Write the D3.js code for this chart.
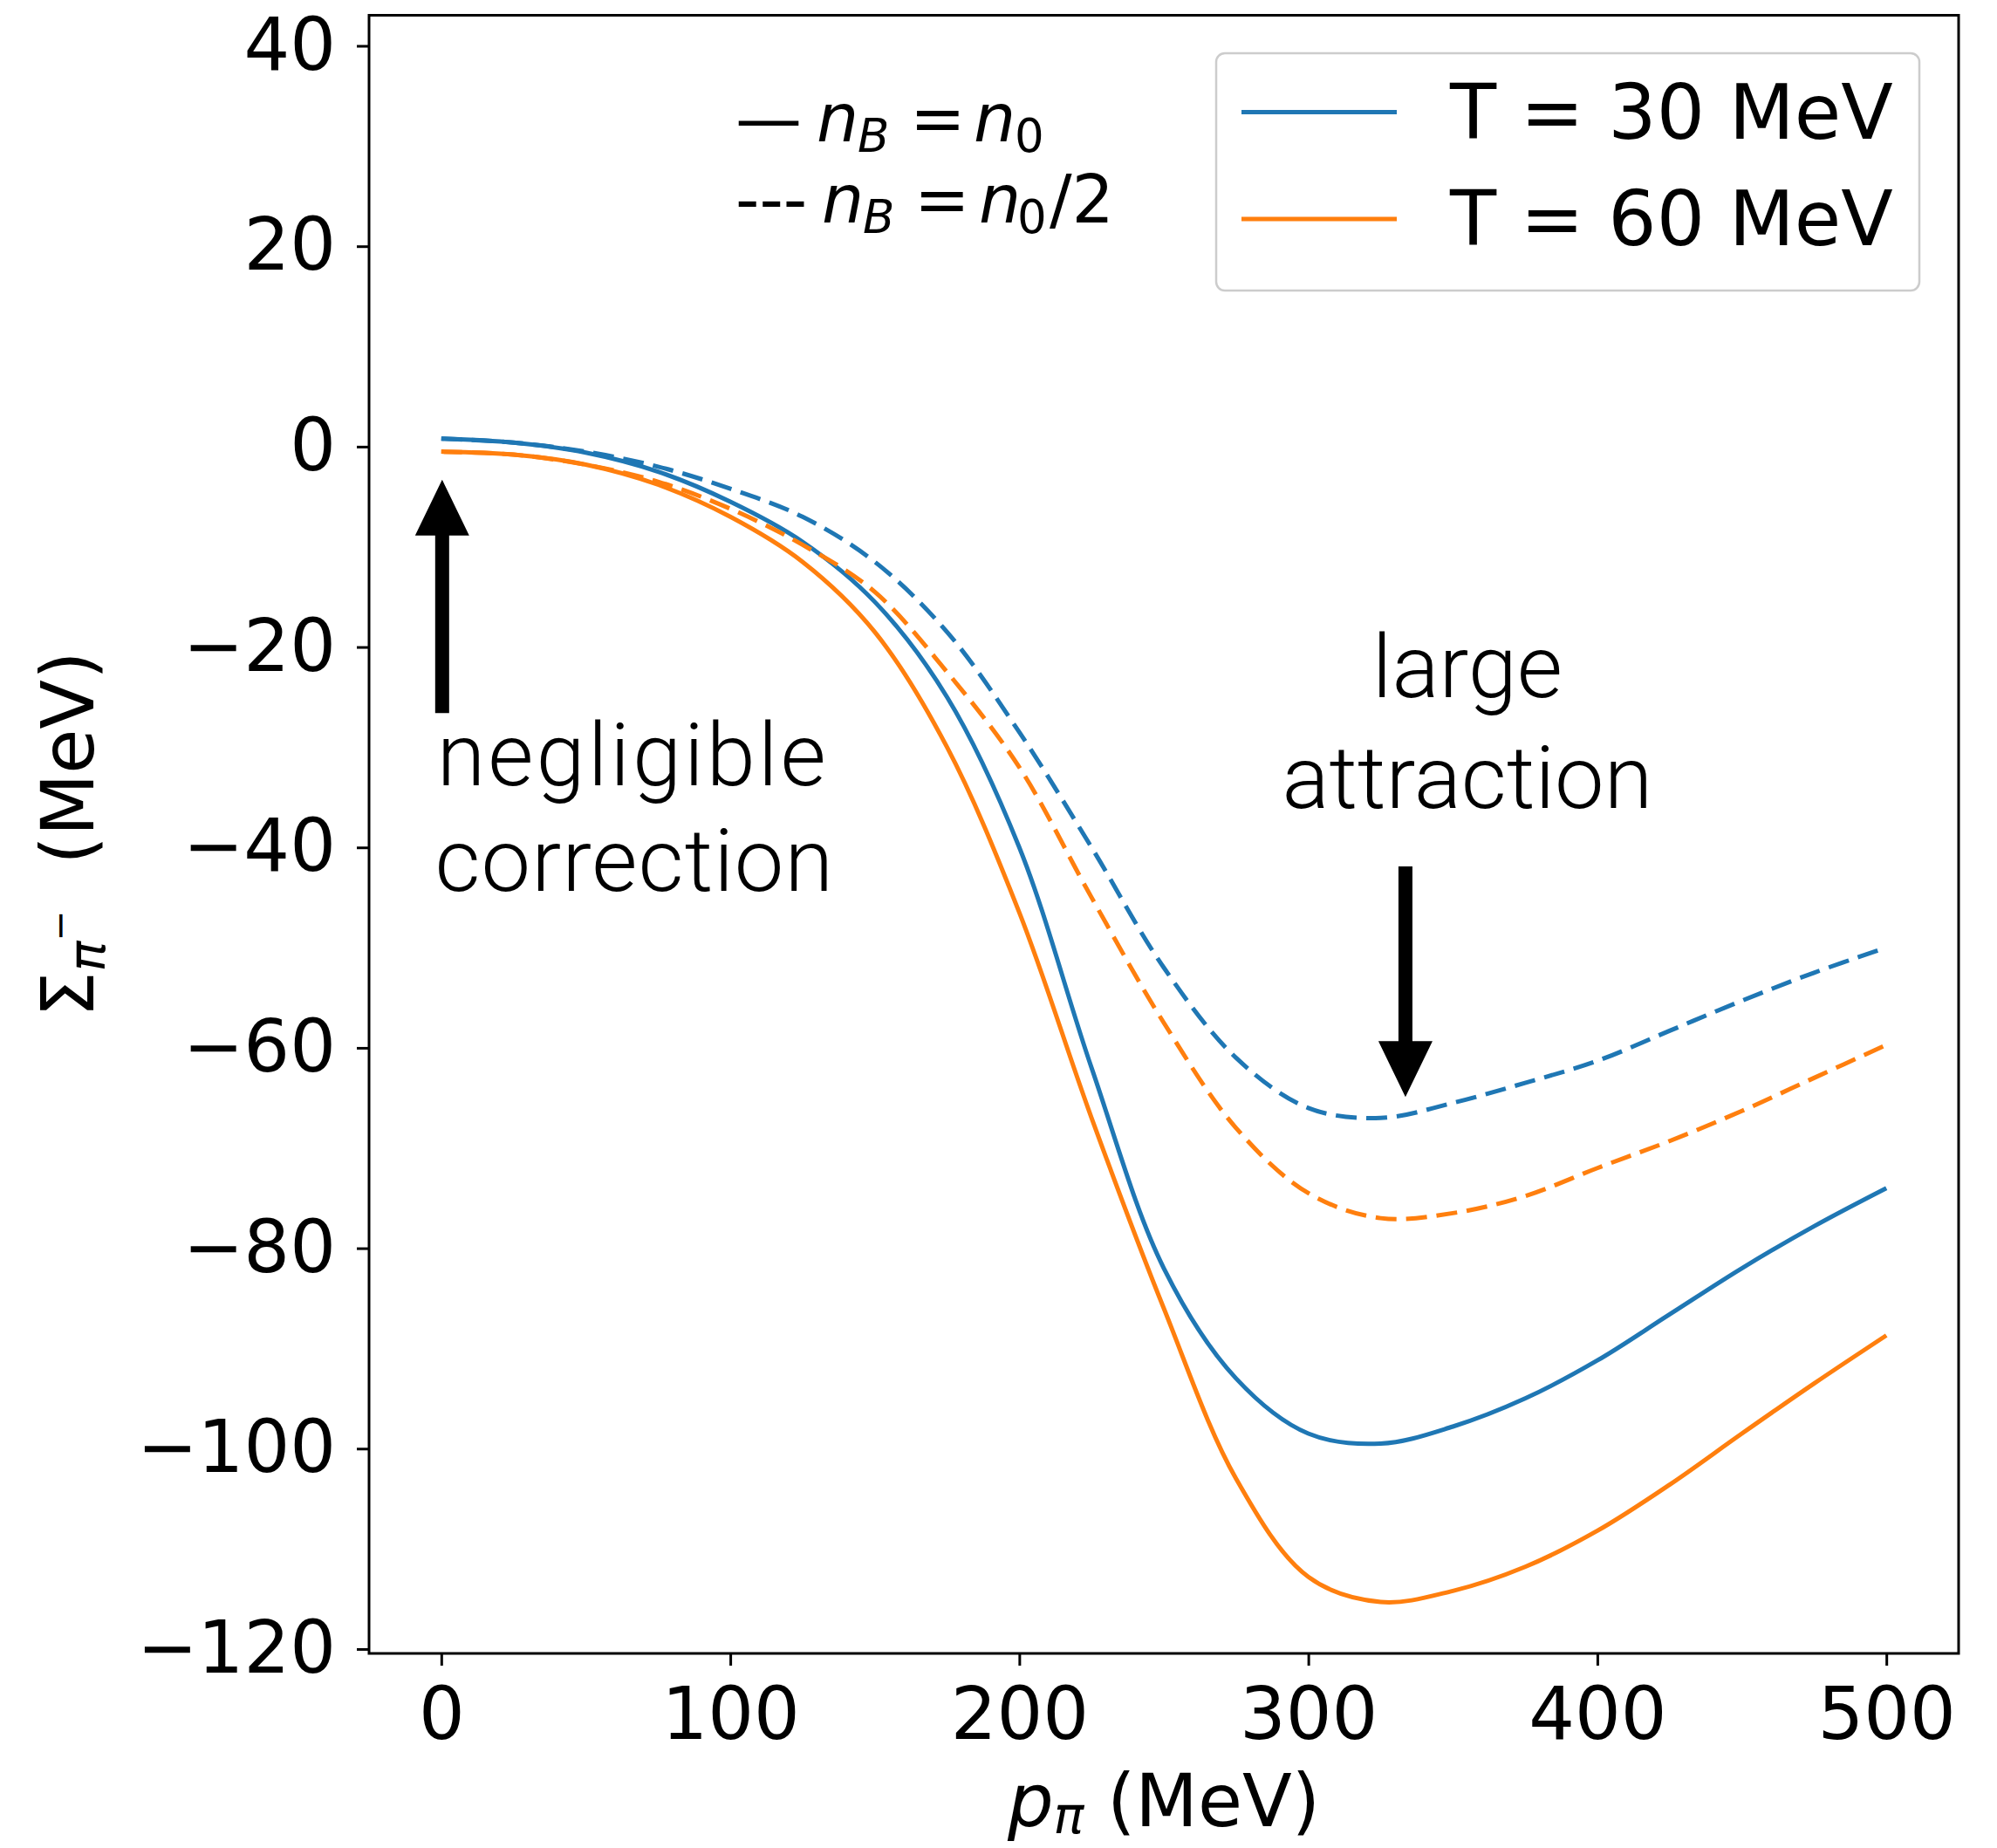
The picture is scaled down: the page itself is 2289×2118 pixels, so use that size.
<!DOCTYPE html>
<html>
<head>
<meta charset="utf-8">
<script src="https://cdn.jsdelivr.net/npm/d3@7"></script>
<style>
body { margin: 0; background: #fff; }
text { font-family: 'DejaVu Sans', sans-serif; }
</style>
</head>
<body>
<svg id="chart" width="2289" height="2118"></svg>
<script>
// pion momentum grid (MeV)
var pGrid = [0, 25, 50, 75, 100, 125, 150, 175, 200, 225, 250, 275, 300, 325, 350, 375, 400, 425, 450, 475, 500];

// self energy Sigma_pi- (MeV)
var sigT30n0 = [0.8, 0.4, -0.6, -2.5, -5.5, -9.5, -15.5, -25, -40, -62, -82, -93, -98.5, -99.5, -97.8, -95, -91.2, -86.6, -82, -77.8, -74];
var sigT60n0 = [-0.5, -0.8, -1.8, -3.8, -7, -11.5, -18.5, -30, -46.5, -67, -86, -103, -112.8, -115.3, -114.2, -111.8, -108.2, -103.6, -98.5, -93.5, -88.7];
var sigT30half = [0.8, 0.4, -0.5, -2, -4.2, -7, -11.5, -18.5, -28.5, -40, -52, -61, -66, -67, -65.5, -63.5, -61.3, -58.3, -55.3, -52.5, -50];
var sigT60half = [-0.5, -0.8, -1.8, -3.5, -6.2, -9.8, -14.5, -22.5, -32, -45, -57.5, -68, -74.5, -77, -76.5, -74.8, -72, -69.3, -66.3, -63, -59.7];

var xTicks = [0, 100, 200, 300, 400, 500];
var yTicks = [40, 20, 0, -20, -40, -60, -80, -100, -120];
var legendLabels = ['T = 30 MeV', 'T = 60 MeV'];

var blue = '#1f77b4', orange = '#ff7f0e';

//plot frame
var fr = {'left': 423, 'right': 2245, 'top': 17.5, 'bottom': 1895};

var svg = d3.select('#chart');
svg.append('rect').attr('width', 2289).attr('height', 2118).style('fill', '#fff');

var x = d3.scaleLinear().domain([-25, 525]).range([fr.left, fr.right]);
var y = d3.scaleLinear().domain([-120.44, 43.05]).range([fr.bottom, fr.top]);

var fmt = function(d) { return d < 0 ? '\u2212' + Math.abs(d) : '' + d; };

//axes
var gx = svg.append('g')
	.attr('transform', 'translate(0,' + fr.bottom + ')')
	.call(d3.axisBottom(x).tickValues(xTicks).tickSizeInner(14).tickSizeOuter(0).tickPadding(25).tickFormat(fmt));
var gy = svg.append('g')
	.attr('transform', 'translate(' + fr.left + ',0)')
	.call(d3.axisLeft(y).tickValues(yTicks).tickSizeInner(14).tickSizeOuter(0).tickPadding(24).tickFormat(fmt));

[gx, gy].forEach(function(g) {
	g.select('.domain').remove();
	g.selectAll('line').attr('stroke', '#000').attr('stroke-width', 3);
	g.selectAll('text')
		.attr('fill', '#000')
		.style('font-family', "'DejaVu Sans', sans-serif")
		.style('font-size', '83px');
});

//curves
var line = d3.line()
	.x(function(d) { return x(d[0]); })
	.y(function(d) { return y(d[1]); })
	.curve(d3.curveCatmullRom.alpha(0.5));

var series = [
	{'vals': sigT30n0, 'color': blue, 'dash': null},
	{'vals': sigT60n0, 'color': orange, 'dash': null},
	{'vals': sigT30half, 'color': blue, 'dash': '24,11'},
	{'vals': sigT60half, 'color': orange, 'dash': '24,11'}
];

series.forEach(function(s) {
	svg.append('path')
		.datum(d3.zip(pGrid, s.vals))
		.attr('d', line)
		.attr('fill', 'none')
		.attr('stroke', s.color)
		.attr('stroke-width', 5)
		.attr('stroke-dasharray', s.dash);
});

//frame on top
svg.append('rect')
	.attr('x', fr.left).attr('y', fr.top)
	.attr('width', fr.right - fr.left).attr('height', fr.bottom - fr.top)
	.attr('fill', 'none').attr('stroke', '#000').attr('stroke-width', 3);

//legend box
var lg = svg.append('g');
lg.append('rect')
	.attr('x', 1394).attr('y', 61).attr('width', 806).attr('height', 272)
	.attr('rx', 10)
	.attr('fill', '#fff').attr('fill-opacity', 0.8)
	.attr('stroke', '#cccccc').attr('stroke-width', 2.5);
[blue, orange].forEach(function(c, i) {
	var yy = 128.5 + i * 122.5;
	lg.append('line')
		.attr('x1', 1423).attr('x2', 1601).attr('y1', yy).attr('y2', yy)
		.attr('stroke', c).attr('stroke-width', 5);
	lg.append('text')
		.attr('x', 1662).attr('y', yy + 30)
		.style('font-size', '87px')
		.text(legendLabels[i]);
});

//density note (mathtext style)
function densityLine(y0, dashTxt, xs, tail) {
	var t = svg.append('text').attr('y', y0).style('font-size', '76px');
	t.append('tspan').attr('x', xs[0]).text(dashTxt);
	t.append('tspan').attr('x', xs[1]).style('font-style', 'italic').text('n');
	t.append('tspan').attr('x', xs[2]).attr('dy', 12).style('font-style', 'italic').style('font-size', '53px').text('B');
	t.append('tspan').attr('x', xs[3]).attr('dy', -12).text('=');
	t.append('tspan').attr('x', xs[4]).style('font-style', 'italic').text('n');
	t.append('tspan').attr('x', xs[5]).attr('dy', 12).style('font-size', '53px').text('0');
	if (tail) t.append('tspan').attr('x', xs[6]).attr('dy', -12).text(tail);
}
densityLine(162, '\u2014', [843, 936, 983, 1043, 1116, 1163]);
densityLine(255, '---', [843, 942, 989, 1048, 1122, 1166, 1203], '/2');

//arrows + notes
function arrow(xv, fromV, toV) {
	var x0 = x(xv), y0 = y(fromV), y1 = y(toV);
	var dir = y1 < y0 ? 1 : -1;
	var headL = 64, hw = 31, sw = 8;
	var yb = y1 + dir * headL;
	svg.append('path')
		.attr('d', 'M' + (x0 - sw) + ',' + y0 + 'L' + (x0 - sw) + ',' + yb + 'L' + (x0 - hw) + ',' + yb +
			'L' + x0 + ',' + y1 + 'L' + (x0 + hw) + ',' + yb + 'L' + (x0 + sw) + ',' + yb + 'L' + (x0 + sw) + ',' + y0 + 'Z')
		.attr('fill', '#000');
}
arrow(0.3, -26.6, -3.3);
arrow(333.6, -41.9, -64.9);

var noteFont = "Roboto, 'Liberation Sans', sans-serif";
function note(txt, xv, v, anchor, spacing) {
	svg.append('text')
		.attr('x', x(xv)).attr('y', y(v))
		.attr('text-anchor', anchor)
		.style('font-family', noteFont).style('font-weight', 300)
		.style('font-size', '101px')
		.style('letter-spacing', spacing + 'px')
		.text(txt);
}
note('negligible', -1.5, -33.8, 'start', 3);
note('correction', -2.2, -44.3, 'start', 1);
note('large', 355, -25.0, 'middle', 0);
note('attraction', 355, -36.1, 'middle', 0);

//axis labels
var xl = svg.append('text')
	.attr('x', (fr.left + fr.right) / 2).attr('y', 2093)
	.attr('text-anchor', 'middle').style('font-size', '83px');
xl.append('tspan').style('font-style', 'italic').text('p');
xl.append('tspan').attr('dy', 8).style('font-style', 'italic').style('font-size', '58px').text('\u03c0');
xl.append('tspan').attr('dy', -8).text(' (MeV)');

var yl = svg.append('text')
	.attr('transform', 'translate(107,' + ((fr.top + fr.bottom) / 2) + ') rotate(-90)')
	.attr('text-anchor', 'middle').style('font-size', '83px')
	.attr('xml:space', 'preserve');
yl.append('tspan').text('\u03a3');
yl.append('tspan').attr('dy', 13).style('font-style', 'italic').style('font-size', '58px').text('\u03c0');
yl.append('tspan').attr('dy', -37).style('font-size', '42px').text('\u2212');
yl.append('tspan').attr('dy', 24).text('\u00a0\u00a0(MeV)');
</script>
</body>
</html>
